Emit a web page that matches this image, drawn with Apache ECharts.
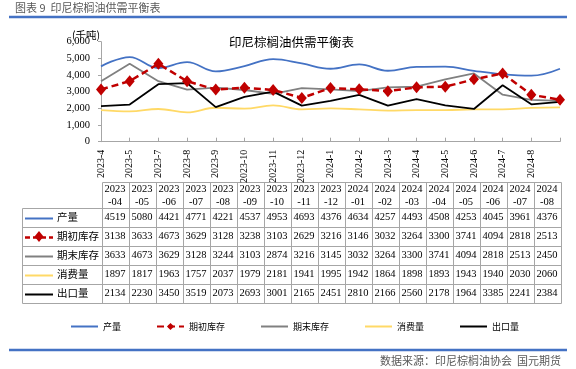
<!DOCTYPE html>
<html><head><meta charset="utf-8">
<script src="https://cdn.jsdelivr.net/npm/echarts@6/dist/echarts.min.js"></script>
<style>html,body{margin:0;padding:0;background:#fff}#c{width:576px;height:369px}</style>
</head><body><div id="c"></div>
<script>
// x-axis tick labels as printed in the reference (17 positions, last unlabeled)
const axisLabels = ["2023-4","2023-5","2023-7","2023-8","2023-9","2023-10","2023-11","2023-12","2024-1","2024-2","2024-3","2024-4","2024-5","2024-6","2024-7","2024-8",""];
// table column headers
const tableHeaders = ["2023-04","2023-05","2023-06","2023-07","2023-08","2023-09","2023-10","2023-11","2023-12","2024-01","2024-02","2024-03","2024-04","2024-05","2024-06","2024-07","2024-08"];
const seriesNames = ["产量","期初库存","期末库存","消费量","出口量"];
const production   = [4519,5080,4421,4771,4221,4537,4953,4693,4376,4634,4257,4493,4508,4253,4045,3961,4376];
const openingStock = [3138,3633,4673,3629,3128,3238,3103,2629,3216,3146,3032,3264,3300,3741,4094,2818,2513];
const endingStock  = [3633,4673,3629,3128,3244,3103,2874,3216,3145,3032,3264,3300,3741,4094,2818,2513,2450];
const consumption  = [1897,1817,1963,1757,2037,1979,2181,1941,1995,1942,1864,1898,1893,1943,1940,2030,2060];
const exportsQty   = [2134,2230,3450,3519,2073,2693,3001,2165,2451,2810,2166,2560,2178,1964,3385,2241,2384];
const yMin = 0, yMax = 6000, yStep = 1000;

const SERIF = '"Liberation Serif","Times New Roman",serif';
const CJK = '"Noto Sans CJK SC","Noto Sans",sans-serif';
const colorList = ['#4472C4','#C00000','#808080','#FFD966','#000000'];
const allData = [production, openingStock, endingStock, consumption, exportsQty];

const chart = echarts.init(document.getElementById('c'), null, {renderer:'canvas'});

// ---- table graphic ----
const T = {left:22, labelRight:101.5, colW:27, headTop:182, headBottom:208, rowH:19};
const nCols = tableHeaders.length;
const tableRight = T.labelRight + nCols * T.colW;
const tableBottom = T.headBottom + seriesNames.length * T.rowH;
const bc = '#A6A6A6';
const g = [];
const px = v => Math.round(v) + 0.5;
function seg(x1,y1,x2,y2,stroke,w,dash){
  g.push({type:'line', silent:true, shape:{x1,y1,x2,y2}, style:{stroke, lineWidth:w, lineDash:dash||null}});
}
function txt(x,y,text,font,align,fill){
  g.push({type:'text', silent:true, x, y, style:{text, font, fill:fill||'#000', align:align||'center', verticalAlign:'middle', textAlign:align||'center', textVerticalAlign:'middle'}});
}
seg(px(T.labelRight), px(T.headTop), px(tableRight), px(T.headTop), bc, 1);
for (let r = 0; r <= seriesNames.length; r++) {
  const y = px(T.headBottom + r * T.rowH);
  seg(px(T.left), y, px(tableRight), y, bc, 1);
}
seg(px(T.left), px(T.headBottom), px(T.left), px(tableBottom), bc, 1);
for (let c = 0; c <= nCols; c++) {
  const x = px(T.labelRight + c * T.colW);
  seg(x, px(T.headTop), x, px(tableBottom), bc, 1);
}
tableHeaders.forEach((h, c) => {
  const cx = T.labelRight + (c + 0.5) * T.colW;
  const parts = h.split('-');
  txt(cx, T.headTop + 7.5, parts[0], '10.5px ' + SERIF);
  txt(cx, T.headTop + 20.5, '-' + parts[1], '10.5px ' + SERIF);
});
seriesNames.forEach((name, r) => {
  const cy = T.headBottom + (r + 0.5) * T.rowH;
  const ly = Math.round(cy) + 0.5;
  const col = colorList[r];
  if (r === 1) {
    seg(25, ly, 53, ly, col, 2.5, [5,3]);
    g.push({type:'polygon', silent:true, shape:{points:[[39,cy-5.5],[43.5,cy],[39,cy+5.5],[34.5,cy]]}, style:{fill:col}});
  } else {
    seg(25, ly, 53, ly, col, 2);
  }
  txt(57, cy, name, '10.5px ' + CJK, 'left');
  allData[r].forEach((v, c) => {
    txt(T.labelRight + (c + 0.5) * T.colW, cy, String(v), '10.5px ' + SERIF);
  });
});
txt(15, 8, '图表 9  印尼棕榈油供需平衡表', '11px ' + CJK, 'left', '#595959');
seg(9, 17, 567, 17, '#4472C4', 2.5);
seg(9, 350, 567, 350, '#4472C4', 2.5);
txt(561, 361, '数据来源：印尼棕榈油协会  国元期货', '11px ' + CJK, 'right', '#595959');
txt(86, 35, '(千吨)', '10.5px ' + CJK, 'center', '#000');

const legendData = seriesNames.map((n, i) => i === 1 ? {name:n} : {name:n, itemStyle:{opacity:0}});

const option = {
  backgroundColor:'#fff',
  animation:false,
  title:{text:'印尼棕榈油供需平衡表', left:224, top:31, textStyle:{fontSize:12.5, fontWeight:'normal', color:'#000', fontFamily:CJK}},
  grid:{left:101, right:16, top:41.7, bottom:227.3, containLabel:false, outerBoundsMode:'none'},
  legend:{
    left:65, top:317, itemWidth:27, itemHeight:9, itemGap:35,
    textStyle:{fontSize:9, color:'#000', fontFamily:CJK},
    data:legendData
  },
  xAxis:{
    type:'category', data:axisLabels, boundaryGap:false,
    axisLine:{lineStyle:{color:'#A6A6A6', width:1}},
    axisTick:{show:true, inside:true, length:4, lineStyle:{color:'#A6A6A6'}},
    axisLabel:{rotate:90, interval:0, margin:8, fontSize:10, color:'#000', fontFamily:SERIF},
    splitLine:{show:false}
  },
  yAxis:{
    type:'value', min:yMin, max:yMax, interval:yStep,
    axisLine:{show:true, lineStyle:{color:'#A6A6A6', width:1}},
    axisTick:{show:true, length:3, lineStyle:{color:'#A6A6A6'}},
    axisLabel:{margin:11, fontSize:10.5, color:'#000', fontFamily:SERIF,
      formatter:v => v.toLocaleString('en-US')},
    splitLine:{show:false}
  },
  series:[
    {name:seriesNames[0], type:'line', data:production, smooth:0.4, symbol:'none', color:colorList[0], lineStyle:{color:colorList[0], width:1.8}},
    {name:seriesNames[1], type:'line', data:openingStock, symbol:'diamond', symbolSize:[10,12], color:colorList[1], itemStyle:{color:colorList[1]}, lineStyle:{color:colorList[1], width:2.5, type:[7,4]}, z:5},
    {name:seriesNames[2], type:'line', data:endingStock, symbol:'none', color:colorList[2], lineStyle:{color:colorList[2], width:1.8}},
    {name:seriesNames[3], type:'line', data:consumption, smooth:0.4, symbol:'none', color:colorList[3], lineStyle:{color:colorList[3], width:1.8}},
    {name:seriesNames[4], type:'line', data:exportsQty, symbol:'none', color:colorList[4], lineStyle:{color:colorList[4], width:1.8}}
  ],
  graphic:g
};
chart.setOption(option);
</script></body></html>
